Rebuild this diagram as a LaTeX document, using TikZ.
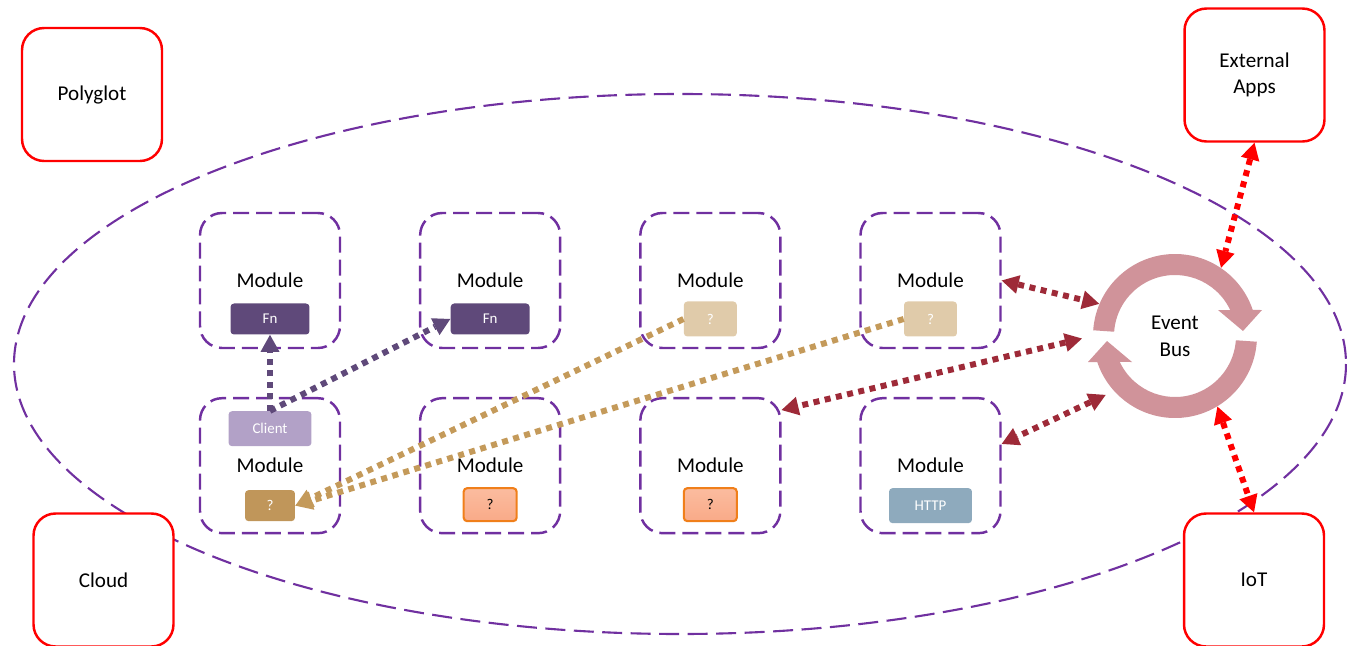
\documentclass[tikz,border=0pt]{standalone}
\usepackage{fontspec}
\setmainfont{Carlito}
\usepackage{xcolor}
\usetikzlibrary{arrows.meta,positioning}

\definecolor{modpurple}{HTML}{7030A0}
\definecolor{fnpurple}{HTML}{5F497A}
\definecolor{clientpurple}{HTML}{B2A1C7}
\definecolor{tanbox}{HTML}{C0965A}
\definecolor{lighttan}{HTML}{E0CBAA}
\definecolor{orangeline}{HTML}{F07F1A}
\definecolor{orangetop}{HTML}{FBBC9F}
\definecolor{orangebot}{HTML}{F9AA88}
\definecolor{httpblue}{HTML}{8EAABD}
\definecolor{busring}{HTML}{D0939A}
\definecolor{darkred}{HTML}{9E2A38}
\definecolor{tanlink}{HTML}{C49A5A}

\begin{document}
\begin{tikzpicture}[
  x=0.02cm, y=-0.02cm,
  tip/.style={-{Triangle[length=0.34cm, width=0.38cm, line width=0pt]}},
  twotip/.style={{Triangle[length=0.34cm, width=0.38cm, line width=0pt]}-{Triangle[length=0.34cm, width=0.38cm, line width=0pt]}},
  hub/.style={draw=red, fill=white, rounded corners=0.44cm, line width=1.4pt, minimum width=2.8cm, minimum height=2.66cm, align=center, font=\fontsize{12}{14.5}\selectfont},
  module/.style={draw=modpurple, dash pattern=on 0.32cm off 0.14cm, rounded corners=0.44cm, line width=1.4pt, minimum width=2.8cm, minimum height=2.7cm},
  title/.style={font=\fontsize{12}{14}\selectfont, inner sep=0pt},
  tag/.style={rounded corners=2pt, minimum width=1.58cm, minimum height=0.62cm, text=white, font=\fontsize{8.5}{10}\selectfont, inner sep=0pt},
  link/.style={line width=0.12cm, dash pattern=on 0.12cm off 0.11cm}
]
\useasboundingbox (0,0) rectangle (1347,646);

% outer boundary
\draw[modpurple, line width=1.2pt, dash pattern=on 0.4cm off 0.17cm] (680,364) ellipse [x radius=666, y radius=270];

% surrounding systems
\node[hub] (poly) at (92,94.5) {Polyglot};
\node[hub] (ext) at (1254.5,75) {External\\Apps};
\node[hub] (cloud) at (103.5,580) {Cloud};
\node[hub] (iot) at (1254,580) {IoT};

% modules
\node[module] (mod11) at (270,280.5) {};
\node[module, right=1.555cm of mod11] (mod12) {};
\node[module, right=1.555cm of mod12] (mod13) {};
\node[module, right=1.555cm of mod13] (mod14) {};
\node[module, below=0.955cm of mod11] (mod21) {};
\node[module, right=1.555cm of mod21] (mod22) {};
\node[module, right=1.555cm of mod22] (mod23) {};
\node[module, right=1.555cm of mod23] (mod24) {};

\node[title] (lab11) at (mod11) {Module};
\node[title] (lab12) at (mod12) {Module};
\node[title] (lab13) at (mod13) {Module};
\node[title] (lab14) at (mod14) {Module};
\node[title] (lab21) at (mod21) {Module};
\node[title] (lab22) at (mod22) {Module};
\node[title] (lab23) at (mod23) {Module};
\node[title] (lab24) at (mod24) {Module};

\node[tag, fill=fnpurple] (fn1) at ([yshift=-0.77cm]mod11.center) {Fn};
\node[tag, fill=fnpurple] (fn2) at ([yshift=-0.77cm]mod12.center) {Fn};
\node[tag, fill=lighttan, minimum width=1.06cm, minimum height=0.7cm] (q13) at ([yshift=-0.77cm]mod13.center) {?};
\node[tag, fill=lighttan, minimum width=1.06cm, minimum height=0.7cm] (q14) at ([yshift=-0.77cm]mod14.center) {?};
\node[tag, fill=clientpurple, minimum width=1.66cm, minimum height=0.7cm] (client) at ([yshift=0.74cm]mod21.center) {Client};
\node[tag, fill=tanbox, minimum width=1cm] (q21) at ([yshift=-0.8cm]mod21.center) {?};
\node[tag, draw=orangeline, line width=1.2pt, top color=orangetop, bottom color=orangebot, text=black, minimum width=1.06cm, minimum height=0.66cm] (q22) at ([yshift=-0.78cm]mod22.center) {?};
\node[tag, draw=orangeline, line width=1.2pt, top color=orangetop, bottom color=orangebot, text=black, minimum width=1.06cm, minimum height=0.66cm] (q23) at ([yshift=-0.78cm]mod23.center) {?};
\node[tag, fill=httpblue, minimum width=1.66cm, minimum height=0.7cm] (http) at ([yshift=-0.8cm]mod24.center) {HTTP};

% event bus
\node[circle, minimum size=3.28cm, inner sep=0pt, align=center, font=\fontsize{12}{15.3}\selectfont] (bus) at (1175,336) {Event\\Bus};
\fill[busring, shift={(bus.center)}] (184:82) arc[start angle=184, end angle=341.5, radius=82]
  -- (87,-26) -- (68,-5) -- (43,-26) -- (334.8:61) arc[start angle=334.8, end angle=184, radius=61] -- cycle;
\fill[busring, shift={(bus.center)}] (4:82) arc[start angle=4, end angle=161.5, radius=82]
  -- (-87,26) -- (-68,5) -- (-43,26) -- (154.8:61) arc[start angle=154.8, end angle=4, radius=61] -- cycle;

% calls
\draw[link, tip, fnpurple] (client.north) -- (fn1.south);
\draw[link, tip, fnpurple] (client.north) -- (fn2.west);
\draw[link, tip, tanlink] (q13.west) -- (q21.east);
\draw[link, tip, tanlink] (q14.west) -- (q21.east);

% bus traffic
\draw[link, twotip, darkred] (mod14.east) -- (bus.157);
\draw[link, twotip, darkred, shorten <=0.22cm] (bus.180) -- (mod23.38);
\draw[link, twotip, darkred, shorten <=0.18cm] (bus.222) -- (mod24.17);
\draw[link, twotip, red] (ext.south) -- (bus.56);
\draw[link, twotip, red] (bus.301) -- (iot.north);

\end{tikzpicture}
\end{document}
